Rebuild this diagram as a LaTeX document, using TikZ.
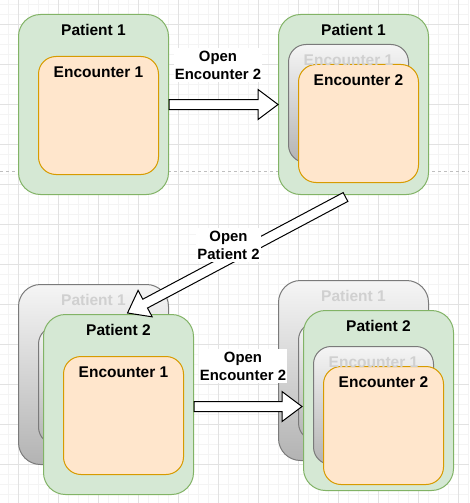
\documentclass[tikz,border=0pt]{standalone}
\usepackage{fontspec}
\setmainfont{Liberation Sans}
\usetikzlibrary{calc,positioning}

\definecolor{grnfill}{HTML}{D5E8D4}
\definecolor{grnline}{HTML}{82B366}
\definecolor{orgfill}{HTML}{FFE6CC}
\definecolor{orgline}{HTML}{D79B00}
\definecolor{gsttop}{HTML}{F5F5F5}
\definecolor{gstbot}{HTML}{B3B3B3}
\definecolor{gstline}{HTML}{7A7A7A}
\definecolor{gsttext}{HTML}{D0D0D0}
\definecolor{gridmin}{HTML}{F4F4F4}
\definecolor{gridmaj}{HTML}{E2E2E2}

% hollow block arrow from #1 to #2
\newcommand{\openarrow}[2]{%
\coordinate (#1h) at ($(#2)!20pt!(#1)$);
\draw[line width=1pt,fill=white,line join=miter]
  ($(#1)!5pt!90:(#2)$) -- ($(#1h)!5pt!90:(#2)$) -- ($(#1h)!15pt!90:(#2)$)
  -- (#2) -- ($(#1h)!15pt!-90:(#2)$) -- ($(#1h)!5pt!-90:(#2)$)
  -- ($(#1)!5pt!-90:(#2)$) -- cycle;
}

\begin{document}
\begin{tikzpicture}[x=1pt,y=-1pt]

\tikzset{pat/.style = {draw=grnline,fill=grnfill,line width=1pt,rounded corners=22pt,
  minimum width=150pt,minimum height=180pt,anchor=north west,inner sep=0pt}}
\tikzset{enc/.style = {draw=orgline,fill=orgfill,line width=1pt,rounded corners=17.5pt,
  minimum width=120pt,minimum height=118pt,anchor=north west,inner sep=0pt}}
\tikzset{ghost/.style = {draw=gstline,top color=gsttop,bottom color=gstbot}}
\tikzset{ttl/.style = {font=\bfseries\fontsize{15.5}{18}\selectfont,inner sep=0pt}}
\tikzset{gttl/.style = {ttl,text=gsttext}}
\tikzset{lbl/.style = {fill=white,align=center,inner xsep=1pt,inner ysep=3pt,
  font=\bfseries\fontsize{14.9}{18}\selectfont}}

\useasboundingbox (0,0) rectangle (469,503);
\fill[white] (0,0) rectangle (469,503);

% grid
\foreach \x in {8,18,...,468} \draw[gridmin,line width=0.8pt] (\x,0) -- (\x,503);
\foreach \y in {4,14,...,504} \draw[gridmin,line width=0.8pt] (0,\y) -- (469,\y);
\foreach \x in {18,58,...,458} \draw[gridmaj,line width=0.8pt] (\x,0) -- (\x,503);
\foreach \y in {24,64,...,504} \draw[gridmaj,line width=0.8pt] (0,\y) -- (469,\y);
\draw[black!25,line width=0.8pt,dash pattern=on 3pt off 3pt] (0,171) -- (469,171);

% top left
\node[pat] (p1) at (18,14) {};
\node[enc] (e1) at (38,56) {};

% top right
\node[pat] (q1) at (278,14) {};
\node[enc,ghost] (qg1) at (288,44) {};
\node[enc] (qe2) at (298,64) {};

% bottom left
\node[pat,ghost] (rg) at (18,284) {};
\node[enc,ghost] (rge) at (38,326) {};
\node[pat] (r2) at (43,314) {};
\node[enc] (re1) at (63,356) {};

% bottom right
\node[pat,ghost] (sg) at (278,280) {};
\node[enc,ghost] (sge) at (298,322) {};
\node[pat] (s2) at (303,310) {};
\node[enc,ghost] (sg1) at (313,346) {};
\node[enc] (se2) at (323,366) {};

% titles
\foreach \bx/\txt in {p1/Patient 1, e1/Encounter 1, q1/Patient 1, qe2/Encounter 2,
  r2/Patient 2, re1/Encounter 1, s2/Patient 2, se2/Encounter 2}
\node[ttl] (t\bx) at ($(\bx.north)+(0,16)$) {\txt};
\foreach \bx/\txt in {qg1/Encounter 1, rg/Patient 1, sg/Patient 1, sg1/Encounter 1}
\node[gttl] (t\bx) at ($(\bx.north)+(0,16)$) {\txt};

% arrows
\coordinate (a1s) at (p1.east);
\coordinate (a1e) at (q1.west);
\coordinate (a2s) at ($(r2.east)+(0,2)$);
\coordinate (a2e) at ($(s2.west)+(-1,6)$);
\coordinate (a3s) at ($(q1.south)+(-8,2)$);
\coordinate (a3e) at ($(r2.north)+(9,-1)$);
\openarrow{a1s}{a1e}
\openarrow{a2s}{a2e}
\openarrow{a3s}{a3e}

\node[lbl] (l1) at (218,65) {Open\\Encounter 2};
\node[lbl] (l2) at (243,366) {Open\\Encounter 2};
\node[lbl] (l3) at (228.5,245) {Open\\Patient 2};

\end{tikzpicture}
\end{document}
